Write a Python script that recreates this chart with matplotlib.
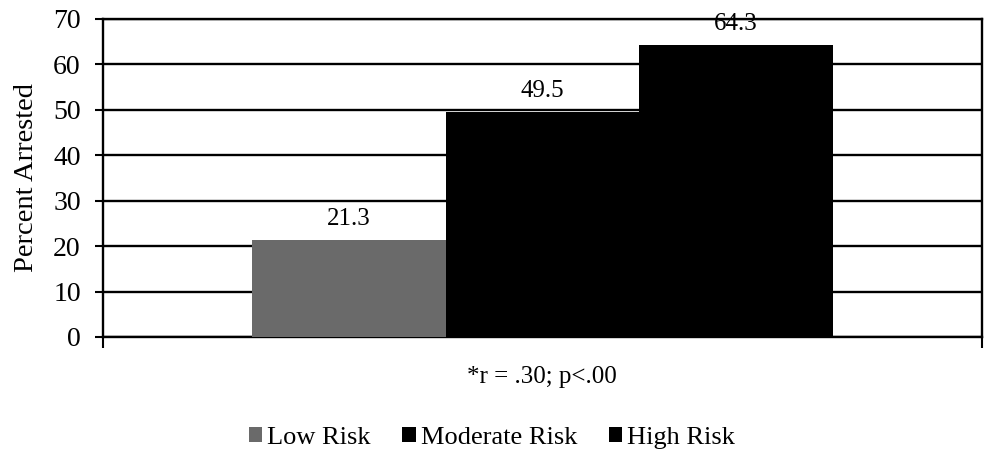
import matplotlib
matplotlib.use('Agg')
import matplotlib.pyplot as plt
from matplotlib.patches import Patch

# arrest rates by risk level
risk_levels = ["Low Risk", "Moderate Risk", "High Risk"]
percent_arrested = [21.3, 49.5, 64.3]
bar_colors = ["#6a6a6a", "#000000", "#000000"]
y_ticks = [0, 10, 20, 30, 40, 50, 60, 70]
footnote = "*r = .30; p<.00"

plt.rcParams['font.family'] = ['Liberation Serif', 'DejaVu Serif']

fig = plt.figure(figsize=(9.85, 4.51), dpi=100)
ax = fig.add_axes([0.1046, 0.2528, 0.8924, 0.7052])

positions = [-1, 0, 1]
bars = ax.bar(positions, percent_arrested, width=1.0, color=bar_colors,
              edgecolor="none", zorder=3)

for rect, val in zip(bars, percent_arrested):
    ax.annotate(f"{val:.1f}", (rect.get_x() + rect.get_width() / 2, val),
                xytext=(0, 7), textcoords="offset points",
                ha="center", va="bottom", fontsize=18, zorder=4)

ax.set_xlim(-2.27, 2.27)
ax.set_ylim(0, 70)
ax.set_yticks(y_ticks)
ax.set_yticklabels([str(t) for t in y_ticks], fontsize=20)
ax.set_xticks([-2.27, 2.27])
ax.set_xticklabels([])
ax.tick_params(axis="y", direction="out", length=6, width=1.5, pad=10)
ax.tick_params(axis="x", direction="out", length=8, width=1.5)
ax.yaxis.grid(True, color="black", linewidth=1.7, zorder=1)
ax.set_axisbelow(True)

for side in ["left", "bottom", "right", "top"]:
    ax.spines[side].set_linewidth(1.7)
    ax.spines[side].set_color("black")

ax.set_ylabel("Percent Arrested", fontsize=20.5)
ax.yaxis.set_label_coords(-0.073, 0.5)

fig.text(542 / 985, 1 - 377 / 451, footnote, ha="center", va="center",
         fontsize=18)

handles = [Patch(facecolor=c, edgecolor="none") for c in bar_colors]
fig.legend(handles, risk_levels, loc="center",
           bbox_to_anchor=(492 / 985, 1 - 438 / 451), ncol=3, frameon=False,
           fontsize=19, handlelength=0.5, handleheight=0.5,
           handletextpad=0.2, columnspacing=1.2)

plt.savefig("out.png", dpi=100)
plt.close()
